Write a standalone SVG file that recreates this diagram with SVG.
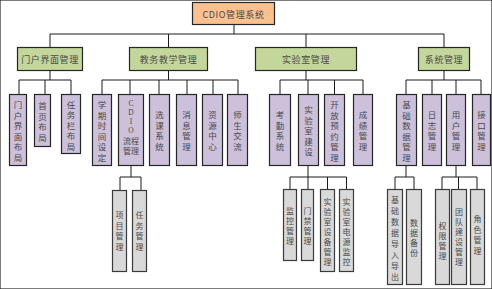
<svg xmlns="http://www.w3.org/2000/svg" width="492" height="289" viewBox="0 0 492 289">
<style>
text{font-family:"Noto Sans CJK SC","Noto Sans",sans-serif;font-size:8.5px;fill:#4a4a4a;dominant-baseline:central;text-anchor:middle}
.h{font-size:9px;letter-spacing:0.6px}
.s{font-size:8px}
.lat{font-family:"Liberation Serif",serif;font-size:7.5px}
rect{stroke:#262626;stroke-width:1.2}
.l1{fill:#FAC090}
.l2{fill:#C3D69B}
.l3{fill:#CCC0DA}
.l4{fill:#D9D9D9;stroke:#3a3a3a}
#connectors path{fill:none;stroke:#1a1a1a;stroke-width:1}
</style>
<rect x="0" y="0" width="492" height="289" fill="#ffffff" stroke="none"/>
<g id="connectors">
<path d="M234 25V34M50 34H444M50 34V47M168.5 34V47M306 34V47M444 34V47"/>
<path d="M50 71V80M19 80H71M19 80V94M45 80V94M71 80V94"/>
<path d="M168.5 71V80M102 80H238M102 80V94M130 80V94M159 80V94M187 80V94M213 80V94M238 80V94"/>
<path d="M306 71V80M280 80H363M280 80V94M308 80V94M334.5 80V94M363 80V94"/>
<path d="M444 71V80M406 80H481M406 80V94M432 80V94M456 80V94M481 80V94"/>
<path d="M131 166V177M120 177H141M120 177V190M141 177V190"/>
<path d="M308 166V177M290 177H346.5M290 177V189M308 177V189M327.5 177V189M346.5 177V189"/>
<path d="M406 166V177M395 177H414M395 177V189M414 177V189"/>
<path d="M456 166V177M442 177H477M442 177V189M458.5 177V189M477 177V189"/>
</g>
<g id="n-root"><rect class="l1" x="192.5" y="2.5" width="82" height="22"/><text x="233.5" y="14" class="h">CDIO管理系统</text></g>
<g id="n-portal"><rect class="l2" x="17.5" y="47.5" width="65" height="23"/><text x="50" y="59.5" class="h">门户界面管理</text></g>
<g id="n-teach"><rect class="l2" x="129.5" y="47.5" width="78" height="23"/><text x="168.5" y="59.5" class="h">教务教学管理</text></g>
<g id="n-lab"><rect class="l2" x="255.5" y="47.5" width="101" height="23"/><text x="306" y="59.5" class="h">实验室管理</text></g>
<g id="n-sys"><rect class="l2" x="418.5" y="47.5" width="51" height="23"/><text x="444" y="59.5" class="h">系统管理</text></g>

<g id="n-p1"><rect class="l3" x="9.5" y="94.5" width="17" height="71"/><text><tspan x="18" y="104">门</tspan><tspan x="18" y="114.5">户</tspan><tspan x="18" y="125">界</tspan><tspan x="18" y="135.5">面</tspan><tspan x="18" y="146">布</tspan><tspan x="18" y="156.5">局</tspan></text></g>
<g id="n-p2"><rect class="l3" x="34.5" y="94.5" width="16" height="52"/><text><tspan x="42.5" y="105">首</tspan><tspan x="42.5" y="115.5">页</tspan><tspan x="42.5" y="126">布</tspan><tspan x="42.5" y="136.5">局</tspan></text></g>
<g id="n-p3"><rect class="l3" x="61.5" y="94.5" width="19" height="59"/><text><tspan x="71" y="103.5">任</tspan><tspan x="71" y="114">务</tspan><tspan x="71" y="124.5">栏</tspan><tspan x="71" y="135">布</tspan><tspan x="71" y="145.5">局</tspan></text></g>

<g id="n-t1"><rect class="l3" x="92.5" y="94.5" width="19" height="71"/><text><tspan x="102" y="104">学</tspan><tspan x="102" y="114.5">期</tspan><tspan x="102" y="125">时</tspan><tspan x="102" y="135.5">间</tspan><tspan x="102" y="146">设</tspan><tspan x="102" y="156.5">定</tspan></text></g>
<g id="n-t2"><rect class="l3" x="118.5" y="94.5" width="25" height="71"/><text class="s"><tspan class="lat" x="131" y="103">C</tspan><tspan class="lat" x="131" y="112">D</tspan><tspan class="lat" x="131" y="121">I</tspan><tspan class="lat" x="131" y="130">O</tspan><tspan x="131" y="140">流程</tspan><tspan x="131" y="150">管理</tspan></text></g>
<g id="n-t3"><rect class="l3" x="149.5" y="94.5" width="20" height="71"/><text><tspan x="159.5" y="114">选</tspan><tspan x="159.5" y="124.5">课</tspan><tspan x="159.5" y="135">系</tspan><tspan x="159.5" y="145.5">统</tspan></text></g>
<g id="n-t4"><rect class="l3" x="176.5" y="94.5" width="20" height="71"/><text><tspan x="186.5" y="114">消</tspan><tspan x="186.5" y="124.5">息</tspan><tspan x="186.5" y="135">管</tspan><tspan x="186.5" y="145.5">理</tspan></text></g>
<g id="n-t5"><rect class="l3" x="202.5" y="94.5" width="20" height="71"/><text><tspan x="212.5" y="114">资</tspan><tspan x="212.5" y="124.5">源</tspan><tspan x="212.5" y="135">中</tspan><tspan x="212.5" y="145.5">心</tspan></text></g>
<g id="n-t6"><rect class="l3" x="227.5" y="94.5" width="20" height="71"/><text><tspan x="237.5" y="114">师</tspan><tspan x="237.5" y="124.5">生</tspan><tspan x="237.5" y="135">交</tspan><tspan x="237.5" y="145.5">流</tspan></text></g>

<g id="n-l1"><rect class="l3" x="269.5" y="94.5" width="21" height="71"/><text><tspan x="280" y="114">考</tspan><tspan x="280" y="124.5">勤</tspan><tspan x="280" y="135">系</tspan><tspan x="280" y="145.5">统</tspan></text></g>
<g id="n-l2"><rect class="l3" x="298.5" y="94.5" width="20" height="71"/><text><tspan x="308.5" y="109">实</tspan><tspan x="308.5" y="119.5">验</tspan><tspan x="308.5" y="130">室</tspan><tspan x="308.5" y="140.5">建</tspan><tspan x="308.5" y="151">设</tspan></text></g>
<g id="n-l3"><rect class="l3" x="324.5" y="94.5" width="20" height="71"/><text><tspan x="334.5" y="104">开</tspan><tspan x="334.5" y="114.5">放</tspan><tspan x="334.5" y="125">预</tspan><tspan x="334.5" y="135.5">约</tspan><tspan x="334.5" y="146">管</tspan><tspan x="334.5" y="156.5">理</tspan></text></g>
<g id="n-l4"><rect class="l3" x="353.5" y="94.5" width="19" height="71"/><text><tspan x="363" y="114">成</tspan><tspan x="363" y="124.5">绩</tspan><tspan x="363" y="135">管</tspan><tspan x="363" y="145.5">理</tspan></text></g>

<g id="n-s1"><rect class="l3" x="396.5" y="94.5" width="20" height="71"/><text><tspan x="406.5" y="104">基</tspan><tspan x="406.5" y="114.5">础</tspan><tspan x="406.5" y="125">数</tspan><tspan x="406.5" y="135.5">据</tspan><tspan x="406.5" y="146">管</tspan><tspan x="406.5" y="156.5">理</tspan></text></g>
<g id="n-s2"><rect class="l3" x="422.5" y="94.5" width="19" height="71"/><text><tspan x="432" y="114">日</tspan><tspan x="432" y="124.5">志</tspan><tspan x="432" y="135">管</tspan><tspan x="432" y="145.5">理</tspan></text></g>
<g id="n-s3"><rect class="l3" x="446.5" y="94.5" width="19" height="71"/><text><tspan x="456" y="114">用</tspan><tspan x="456" y="124.5">户</tspan><tspan x="456" y="135">管</tspan><tspan x="456" y="145.5">理</tspan></text></g>
<g id="n-s4"><rect class="l3" x="472.5" y="94.5" width="18" height="71"/><text><tspan x="481.5" y="114">接</tspan><tspan x="481.5" y="124.5">口</tspan><tspan x="481.5" y="135">管</tspan><tspan x="481.5" y="145.5">理</tspan></text></g>

<g id="n-c1"><rect class="l4" x="112.5" y="190.5" width="14" height="81"/><text class="s"><tspan x="119.5" y="214">项</tspan><tspan x="119.5" y="224.5">目</tspan><tspan x="119.5" y="235">管</tspan><tspan x="119.5" y="245.5">理</tspan></text></g>
<g id="n-c2"><rect class="l4" x="132.5" y="190.5" width="14" height="81"/><text class="s"><tspan x="139.5" y="214">任</tspan><tspan x="139.5" y="224.5">务</tspan><tspan x="139.5" y="235">管</tspan><tspan x="139.5" y="245.5">理</tspan></text></g>

<g id="n-b1"><rect class="l4" x="283.5" y="189.5" width="13" height="71"/><text class="s"><tspan x="290" y="210">监</tspan><tspan x="290" y="220">控</tspan><tspan x="290" y="230">管</tspan><tspan x="290" y="240">理</tspan></text></g>
<g id="n-b2"><rect class="l4" x="301.5" y="189.5" width="12" height="71"/><text class="s"><tspan x="307.5" y="210">门</tspan><tspan x="307.5" y="220">禁</tspan><tspan x="307.5" y="230">管</tspan><tspan x="307.5" y="240">理</tspan></text></g>
<g id="n-b3"><rect class="l4" x="320.5" y="189.5" width="14" height="82"/><text class="s"><tspan x="327.5" y="200.5">实</tspan><tspan x="327.5" y="210.5">验</tspan><tspan x="327.5" y="220.5">室</tspan><tspan x="327.5" y="230.5">设</tspan><tspan x="327.5" y="240.5">备</tspan><tspan x="327.5" y="250.5">管</tspan><tspan x="327.5" y="260.5">理</tspan></text></g>
<g id="n-b4"><rect class="l4" x="339.5" y="189.5" width="14" height="82"/><text class="s"><tspan x="346.5" y="200.5">实</tspan><tspan x="346.5" y="210.5">验</tspan><tspan x="346.5" y="220.5">室</tspan><tspan x="346.5" y="230.5">电</tspan><tspan x="346.5" y="240.5">源</tspan><tspan x="346.5" y="250.5">监</tspan><tspan x="346.5" y="260.5">控</tspan></text></g>

<g id="n-d1"><rect class="l4" x="387.5" y="189.5" width="15" height="95"/><text class="s"><tspan x="395" y="199">基</tspan><tspan x="395" y="210">础</tspan><tspan x="395" y="221">数</tspan><tspan x="395" y="232">据</tspan><tspan x="395" y="243">导</tspan><tspan x="395" y="254">入</tspan><tspan x="395" y="265">导</tspan><tspan x="395" y="276">出</tspan></text></g>
<g id="n-d2"><rect class="l4" x="406.5" y="189.5" width="15" height="95"/><text class="s"><tspan x="414" y="222">数</tspan><tspan x="414" y="232">据</tspan><tspan x="414" y="242">备</tspan><tspan x="414" y="252">份</tspan></text></g>

<g id="n-u1"><rect class="l4" x="435.5" y="189.5" width="14" height="95"/><text class="s"><tspan x="442.5" y="225">权</tspan><tspan x="442.5" y="235">限</tspan><tspan x="442.5" y="245">管</tspan><tspan x="442.5" y="255">理</tspan></text></g>
<g id="n-u2"><rect class="l4" x="451.5" y="189.5" width="15" height="95"/><text class="s"><tspan x="459" y="211">团</tspan><tspan x="459" y="221">队</tspan><tspan x="459" y="231">建</tspan><tspan x="459" y="241">设</tspan><tspan x="459" y="251">管</tspan><tspan x="459" y="261">理</tspan></text></g>
<g id="n-u3"><rect class="l4" x="470.5" y="189.5" width="14" height="95"/><text class="s"><tspan x="477.5" y="218">角</tspan><tspan x="477.5" y="228.5">色</tspan><tspan x="477.5" y="239">管</tspan><tspan x="477.5" y="249.5">理</tspan></text></g>
</svg>
